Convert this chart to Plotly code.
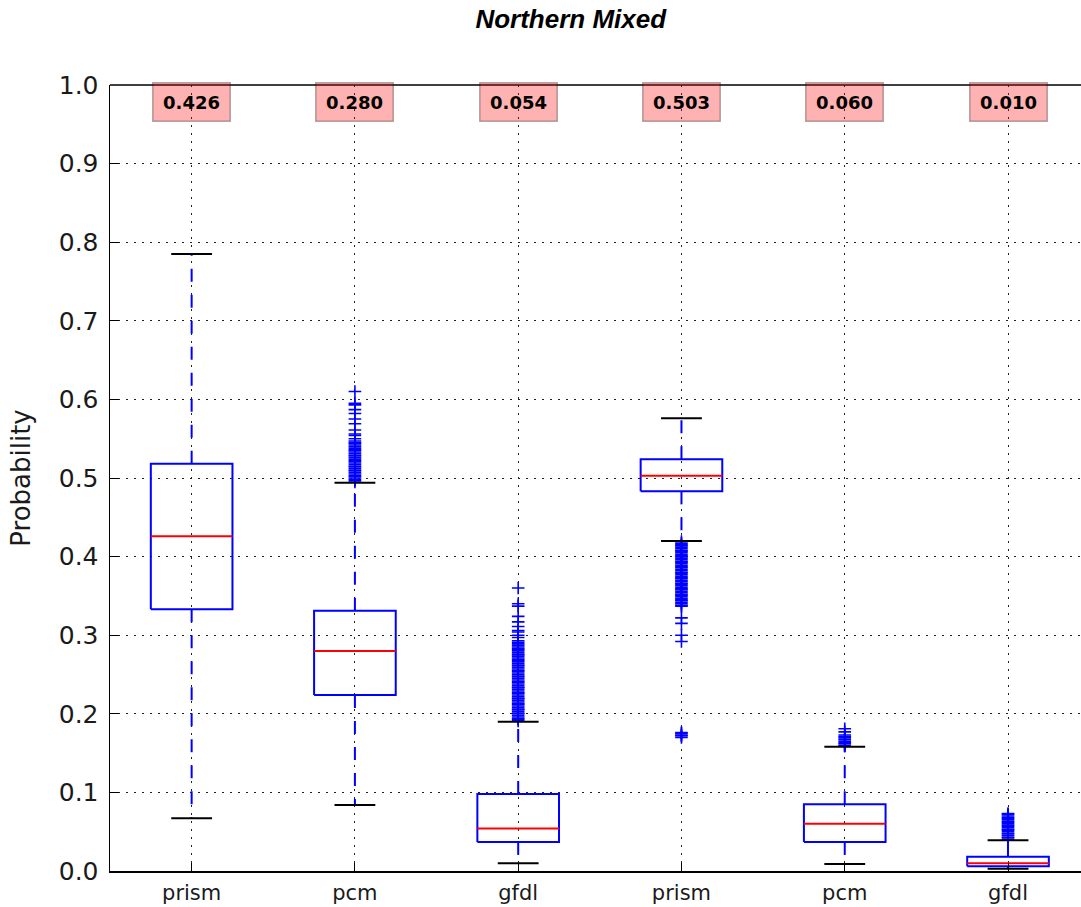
import plotly.graph_objects as go

# Box-plot summary for each model run
labels = ["prism", "pcm", "gfdl", "prism", "pcm", "gfdl"]
positions = [1, 2, 3, 4, 5, 6]
medians = [0.426, 0.280, 0.054, 0.503, 0.060, 0.010]
q1 = [0.333, 0.224, 0.037, 0.483, 0.037, 0.006]
q3 = [0.518, 0.331, 0.098, 0.524, 0.085, 0.018]
whisker_lo = [0.067, 0.084, 0.010, 0.420, 0.009, 0.003]
whisker_hi = [0.785, 0.494, 0.190, 0.576, 0.158, 0.039]

fliers_prism_a = []
fliers_pcm_a = [0.495, 0.497, 0.498, 0.500, 0.502, 0.503, 0.505, 0.507, 0.509, 0.510,
                0.512, 0.514, 0.515, 0.517, 0.519, 0.521, 0.522, 0.524, 0.526, 0.528,
                0.529, 0.531, 0.533, 0.535, 0.536, 0.538, 0.540, 0.542, 0.544, 0.545,
                0.547, 0.550, 0.554, 0.556, 0.561, 0.569, 0.575, 0.582, 0.587, 0.593,
                0.595, 0.610]
fliers_gfdl_a = [0.191, 0.193, 0.194, 0.196, 0.198, 0.200, 0.201, 0.203, 0.205, 0.206,
                 0.208, 0.210, 0.212, 0.213, 0.215, 0.217, 0.219, 0.220, 0.222, 0.224,
                 0.226, 0.227, 0.229, 0.231, 0.233, 0.234, 0.236, 0.238, 0.240, 0.241,
                 0.243, 0.245, 0.247, 0.248, 0.250, 0.252, 0.254, 0.255, 0.257, 0.259,
                 0.261, 0.262, 0.264, 0.266, 0.268, 0.269, 0.271, 0.273, 0.275, 0.276,
                 0.278, 0.280, 0.282, 0.283, 0.285, 0.287, 0.289, 0.291, 0.293, 0.297,
                 0.300, 0.304, 0.306, 0.311, 0.317, 0.324, 0.337, 0.340, 0.360]
fliers_prism_b = [0.419, 0.417, 0.415, 0.414, 0.412, 0.410, 0.408, 0.407, 0.405, 0.403,
                  0.401, 0.400, 0.398, 0.396, 0.394, 0.393, 0.391, 0.389, 0.387, 0.386,
                  0.384, 0.382, 0.380, 0.379, 0.377, 0.375, 0.373, 0.372, 0.370, 0.368,
                  0.366, 0.365, 0.363, 0.361, 0.359, 0.358, 0.356, 0.354, 0.352, 0.351,
                  0.349, 0.347, 0.345, 0.344, 0.342, 0.340, 0.338, 0.337, 0.322, 0.315,
                  0.300, 0.292, 0.176, 0.175, 0.173, 0.172, 0.170]
fliers_pcm_b = [0.159, 0.160, 0.162, 0.163, 0.165, 0.167, 0.168, 0.170, 0.171, 0.173,
                0.177, 0.181]
fliers_gfdl_b = [0.040, 0.042, 0.043, 0.045, 0.047, 0.048, 0.050, 0.052, 0.053, 0.055,
                 0.057, 0.058, 0.060, 0.062, 0.063, 0.065, 0.067, 0.068, 0.070, 0.072,
                 0.073]
fliers = [fliers_prism_a, fliers_pcm_a, fliers_gfdl_a,
          fliers_prism_b, fliers_pcm_b, fliers_gfdl_b]

BOX_HALF = 0.25
CAP_HALF = 0.125
BLUE = "#0000ff"
RED = "#ff0000"

box_x, box_y = [], []
med_x, med_y = [], []
wh_x, wh_y = [], []
cap_x, cap_y = [], []
fl_x, fl_y = [], []
for p, lo, a, m, b, hi, fl in zip(positions, whisker_lo, q1, medians, q3, whisker_hi, fliers):
    box_x += [p - BOX_HALF, p + BOX_HALF, p + BOX_HALF, p - BOX_HALF, p - BOX_HALF, None]
    box_y += [a, a, b, b, a, None]
    med_x += [p - BOX_HALF, p + BOX_HALF, None]
    med_y += [m, m, None]
    wh_x += [p, p, None, p, p, None]
    wh_y += [a, lo, None, b, hi, None]
    cap_x += [p - CAP_HALF, p + CAP_HALF, None, p - CAP_HALF, p + CAP_HALF, None]
    cap_y += [lo, lo, None, hi, hi, None]
    fl_x += [p] * len(fl)
    fl_y += fl

fig = go.Figure()
fig.add_trace(go.Scatter(x=wh_x, y=wh_y, mode="lines",
                         line=dict(color=BLUE, width=2, dash="13px,13px"),
                         hoverinfo="skip"))
fig.add_trace(go.Scatter(x=box_x, y=box_y, mode="lines",
                         line=dict(color=BLUE, width=2), hoverinfo="skip"))
fig.add_trace(go.Scatter(x=med_x, y=med_y, mode="lines",
                         line=dict(color=RED, width=2), hoverinfo="skip"))
fig.add_trace(go.Scatter(x=fl_x, y=fl_y, mode="markers",
                         marker=dict(symbol="cross-thin", size=9,
                                     line=dict(color=BLUE, width=1.6)),
                         hoverinfo="y"))
fig.add_trace(go.Scatter(x=cap_x, y=cap_y, mode="lines",
                         line=dict(color="black", width=2), hoverinfo="skip"))

# Median value labels along the top edge
for p, m in zip(positions, medians):
    fig.add_annotation(x=p, y=0.9785, xref="x", yref="y",
                       text="<b>%.3f</b>" % m, showarrow=False,
                       font=dict(family="DejaVu Sans", size=18, color="black"),
                       bgcolor="rgba(255,0,0,0.3)", bordercolor="rgba(0,0,0,0.3)",
                       borderwidth=1.5, borderpad=2, width=72, height=33)

# Top frame line (the right side of the frame falls outside the page)
fig.add_shape(type="line", xref="paper", yref="paper", x0=0, x1=1, y0=1, y1=1,
              line=dict(color="black", width=1.5))

grid_kw = dict(showgrid=True, gridcolor="#222222", gridwidth=1, griddash="2px,6px")

fig.update_layout(
    width=1081, height=907,
    margin=dict(l=110, r=0, t=85, b=36, autoexpand=False),
    paper_bgcolor="white", plot_bgcolor="white",
    showlegend=False,
    title=dict(text="Northern Mixed", x=0.528, xanchor="center",
               y=1 - 19 / 907, yanchor="middle", yref="container",
               font=dict(family="Liberation Sans", size=26, color="black",
                         weight="bold", style="italic")),
    xaxis=dict(range=[0.5, 6.447], tickmode="array", tickvals=positions, ticktext=labels,
               ticks="inside", ticklen=8, tickcolor="black", tickwidth=1,
               showline=True, linecolor="black", linewidth=1.5, mirror=False,
               zeroline=False, ticklabelstandoff=2, automargin=False,
               tickfont=dict(family="DejaVu Sans", size=21, color="#1a1a1a"),
               **grid_kw),
    yaxis=dict(range=[0, 1], tickmode="linear", tick0=0, dtick=0.1, tickformat=".1f",
               ticks="inside", ticklen=9, tickcolor="black", tickwidth=1,
               showline=True, linecolor="black", linewidth=1.5, mirror=False,
               zeroline=False, ticklabelstandoff=5, automargin=False,
               tickfont=dict(family="DejaVu Sans", size=25, color="#1a1a1a"),
               title=dict(text="Probability", standoff=20,
                          font=dict(family="DejaVu Sans", size=26, color="#1a1a1a")),
               **grid_kw),
)

fig.write_html("out.html", config={"staticPlot": True})
